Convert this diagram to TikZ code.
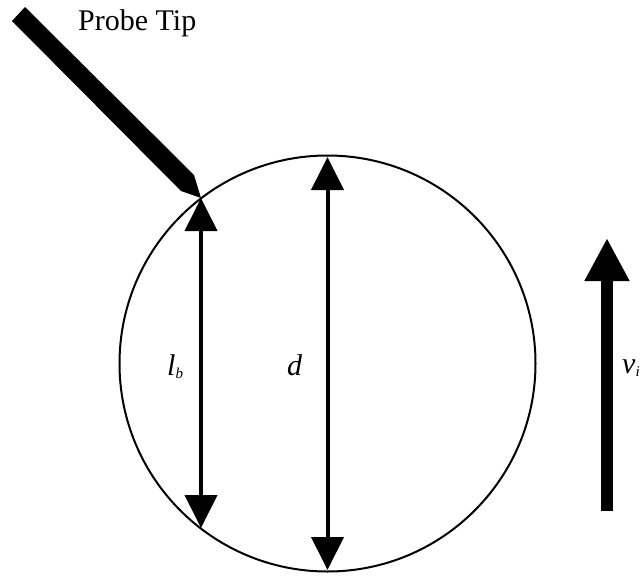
\documentclass[tikz,border=0pt]{standalone}
\usepackage{fontspec}
\setmainfont{Liberation Serif}
\usetikzlibrary{arrows.meta, positioning, calc}
\tikzset{
  dimarrow/.style={line width=4pt, {Triangle[width=32pt,length=33pt]}-{Triangle[width=32pt,length=33pt]}},
  velarrow/.style={line width=12pt, -{Triangle[width=42pt,length=43pt]}},
  lbl/.style={font=\fontsize{30}{33}\selectfont\itshape, inner sep=0pt, anchor=base west}
}
\newcommand{\lsub}[1]{\raisebox{-3pt}{\fontsize{15}{16}\selectfont\itshape #1}}
\begin{document}
\begin{tikzpicture}[x=1pt, y=-1pt]
  \useasboundingbox (0,0) rectangle (640,576);
  % bubble
  \coordinate (c) at (327.5,363.5);
  \draw[line width=2pt] (c) circle[radius=208pt];
  % probe
  \fill (12,21) -- (25,7) -- (194,175) -- (201,198) -- (181,191) -- cycle;
  \node[font=\fontsize{30}{33}\selectfont, inner sep=0pt, anchor=base west] (probe) at (78,30) {Probe Tip};
  % chord and diameter
  \coordinate (lbtop) at (201,198);
  \coordinate (lbbot) at (201,528);
  \coordinate (dtop) at (327.5,157);
  \coordinate (dbot) at (327.5,570);
  \draw[dimarrow] (lbtop) -- (lbbot);
  \draw[dimarrow] (dtop) -- (dbot);
  \node[lbl] (lb) at (167,375) {l\lsub{b}};
  \node[lbl] (d) at (287,375) {d};
  % rise velocity
  \coordinate (vbot) at (607,511);
  \coordinate (vtop) at (607,238);
  \draw[velarrow] (vbot) -- (vtop);
  \node[lbl] (vi) at (622,373) {v\lsub{i}};
\end{tikzpicture}
\end{document}
